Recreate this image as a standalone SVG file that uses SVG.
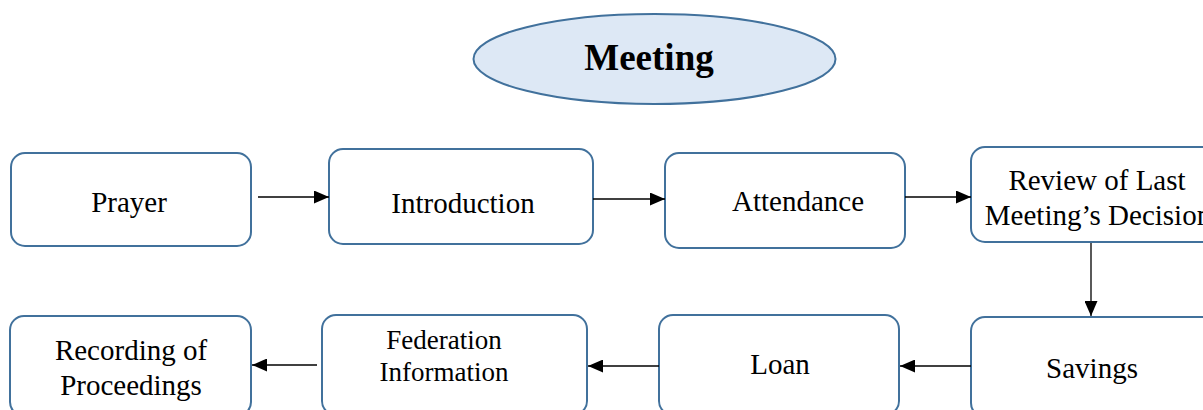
<svg xmlns="http://www.w3.org/2000/svg" width="1203" height="410" viewBox="0 0 1203 410">
<style>
.box{fill:#fff;stroke:#41719c;stroke-width:2}
.t{font-family:"Liberation Serif","Times New Roman",serif;font-size:29px;fill:#000;text-anchor:middle}
.c{stroke:#000;stroke-width:1.3;fill:none;marker-end:url(#ah)}
</style>
<defs>
<marker id="ah" viewBox="0 0 10 10" refX="10" refY="5" markerWidth="15" markerHeight="13" markerUnits="userSpaceOnUse" orient="auto" preserveAspectRatio="none">
<path d="M0,0 L10,5 L0,10 z" fill="#000"/>
</marker>
</defs>
<rect width="1203" height="410" fill="#fff"/>
<g id="meeting">
<ellipse cx="654.5" cy="59" rx="181" ry="45" fill="#dde8f5" stroke="#41719c" stroke-width="2"/>
<text x="649" y="70" class="t" style="font-weight:bold;font-size:37px">Meeting</text>
</g>
<g id="prayer"><rect class="box" x="11" y="153" width="240" height="93" rx="14"/><text class="t" x="129" y="212">Prayer</text></g>
<g id="introduction"><rect class="box" x="329" y="149" width="264" height="95" rx="14"/><text class="t" x="463" y="213">Introduction</text></g>
<g id="attendance"><rect class="box" x="665" y="153" width="240" height="95" rx="14"/><text class="t" x="798" y="211">Attendance</text></g>
<g id="review"><rect class="box" x="971" y="147" width="245" height="95" rx="14"/><text class="t" x="1097" y="190">Review of Last</text><text class="t" x="1098" y="225">Meeting’s Decision</text></g>
<g id="savings"><rect class="box" x="971" y="317" width="245" height="100" rx="14"/><text class="t" x="1092" y="378">Savings</text></g>
<g id="loan"><rect class="box" x="659" y="315" width="240" height="100" rx="14"/><text class="t" x="780" y="374">Loan</text></g>
<g id="federation"><rect class="box" x="322" y="315" width="265" height="100" rx="14"/><text class="t" x="444" y="349" style="font-size:27px">Federation</text><text class="t" x="444" y="381" style="font-size:27px">Information</text></g>
<g id="recording"><rect class="box" x="10" y="316" width="241" height="100" rx="14"/><text class="t" x="131" y="360">Recording of</text><text class="t" x="131" y="395">Proceedings</text></g>
<g id="connectors">
<line class="c" x1="258" y1="197" x2="329" y2="197"/>
<line class="c" x1="593" y1="199" x2="665" y2="199"/>
<line class="c" x1="905" y1="197" x2="971" y2="197"/>
<line class="c" x1="1091" y1="243" x2="1091" y2="316"/>
<line class="c" x1="971" y1="366" x2="900" y2="366"/>
<line class="c" x1="659" y1="366" x2="588" y2="366"/>
<line class="c" x1="317" y1="365" x2="252" y2="365"/>
</g>
</svg>
